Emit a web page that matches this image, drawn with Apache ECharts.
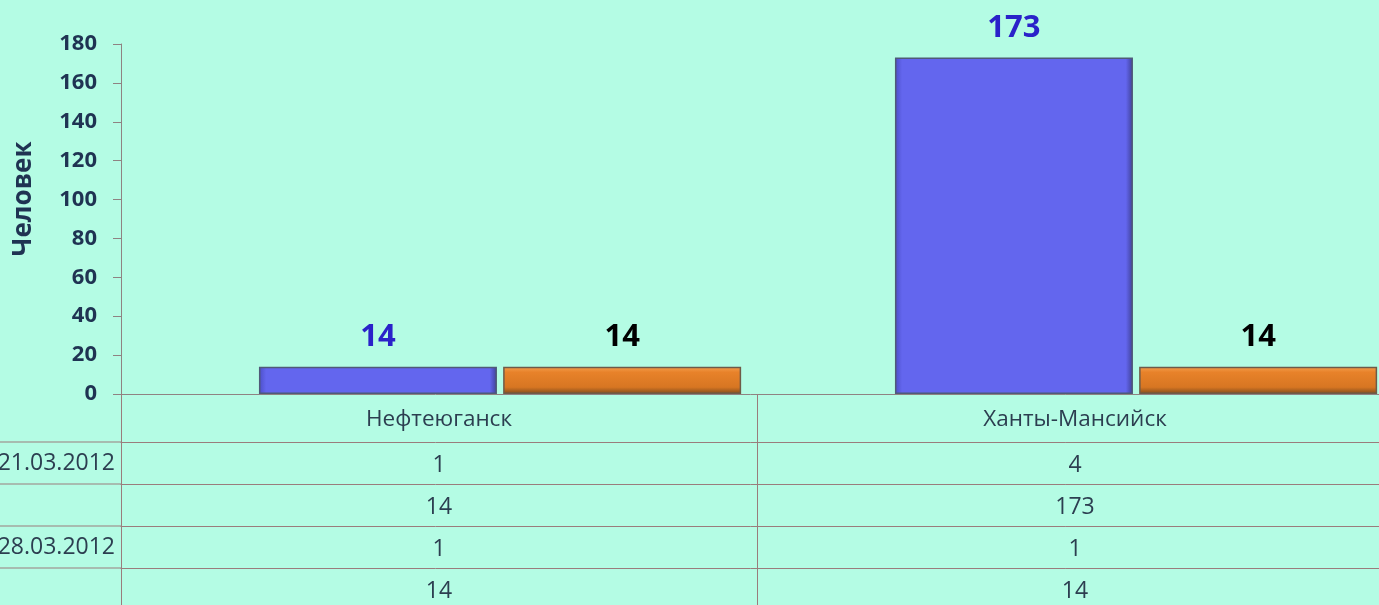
<!DOCTYPE html>
<html>
<head>
<meta charset="utf-8">
<script src="https://cdn.jsdelivr.net/npm/echarts@6/dist/echarts.min.js"></script>
<style>
  html, body { margin: 0; padding: 0; background: #b4fce4; }
  #chart { width: 1379px; height: 605px; }
</style>
</head>
<body>
<div id="chart"></div>
<script>
const cities = ['Нефтеюганск', 'Ханты-Мансийск'];
const rowNames = ['21.03.2012', '', '28.03.2012', ''];
const countsFirst = [1, 4];
const peopleFirst = [14, 173];
const countsSecond = [1, 1];
const peopleSecond = [14, 14];
const rows = [countsFirst, peopleFirst, countsSecond, peopleSecond];

const lineColor = '#9a7c7c';
const textColor = '#2c3e50';
const font = 'Open Sans';
const gridLeft = 121;
const gridBottom = 211;
const headerH = 48;
const rowH = 42;

const chart = echarts.init(document.getElementById('chart'));

// table rows are extra x axes pushed down with offset
const rowAxes = rows.map((vals, i) => ({
  type: 'category',
  data: cities,
  position: 'bottom',
  offset: headerH + rowH * i,
  axisLine: { show: true, lineStyle: { color: lineColor, width: 1 } },
  axisTick: { show: false },
  axisLabel: {
    margin: 12,
    fontFamily: font,
    fontSize: 23,
    color: textColor,
    formatter: (v, idx) => String(vals[idx])
  },
  name: rowNames[i],
  nameLocation: 'start',
  nameGap: 6,
  nameTextStyle: {
    fontFamily: font,
    fontSize: 23,
    color: textColor,
    align: 'right',
    verticalAlign: 'top',
    lineHeight: 42
  }
}));

const hidden = { color: 'rgba(0,0,0,0)' };

function barSeries(name, data, itemStyle, labelColor) {
  return {
    name: name,
    type: 'bar',
    data: data,
    barWidth: 238,
    barGap: '-48.7%',
    itemStyle: itemStyle,
    silent: !labelColor,
    label: {
      show: !!labelColor,
      position: 'top',
      distance: 14,
      fontFamily: font,
      fontWeight: 'bold',
      fontSize: 31,
      color: labelColor
    }
  };
}

const blueStyle = {
  color: new echarts.graphic.LinearGradient(0, 0, 1, 0, [
    { offset: 0, color: '#4b4ec6' },
    { offset: 0.03, color: '#6366ee' },
    { offset: 0.97, color: '#6366ee' },
    { offset: 1, color: '#3e4095' }
  ]),
  borderColor: '#4f5a78',
  borderWidth: 1.5
};
const orangeStyle = {
  color: new echarts.graphic.LinearGradient(0, 0, 0, 1, [
    { offset: 0, color: '#f4a04e' },
    { offset: 0.2, color: '#e8822a' },
    { offset: 0.75, color: '#d77622' },
    { offset: 1, color: '#7e4a1c' }
  ]),
  borderColor: '#6f5a48',
  borderWidth: 1.5
};

const axisY = 605 - gridBottom;
const stubs = rows.map((r, i) => ({
  type: 'line',
  shape: { x1: 0, y1: axisY + headerH + rowH * i, x2: gridLeft, y2: axisY + headerH + rowH * i },
  style: { stroke: lineColor, lineWidth: 1 }
}));

const option = {
  backgroundColor: '#b4fce4',
  animation: false,
  grid: {
    left: gridLeft, right: -14, top: 44, bottom: gridBottom,
    containLabel: false, outerBoundsMode: 'none'
  },
  xAxis: [{
    type: 'category',
    data: cities,
    axisLine: { lineStyle: { color: '#8f8282', width: 1 } },
    axisTick: { show: true, alignWithLabel: false, length: 216, lineStyle: { color: lineColor, width: 1 } },
    axisLabel: { margin: 14, fontFamily: font, fontSize: 22.5, color: textColor }
  }].concat(rowAxes),
  yAxis: {
    type: 'value',
    min: 0,
    max: 180,
    interval: 20,
    name: 'Человек',
    nameLocation: 'middle',
    nameGap: 84,
    nameTextStyle: {
      fontFamily: font, fontSize: 26, fontWeight: 'bold', color: '#1f3352',
      padding: [0, 0, 0, 40]
    },
    axisLine: { show: true, lineStyle: { color: '#8f8282', width: 1 } },
    axisTick: { show: true, length: 8, lineStyle: { color: '#8f8282' } },
    splitLine: { show: false },
    axisLabel: { margin: 24, fontFamily: font, fontSize: 22, fontWeight: 'bold', color: '#1f3352' }
  },
  graphic: stubs,
  series: [
    barSeries(rowNames[0], countsFirst, hidden, null),
    barSeries(rowNames[1], peopleFirst, blueStyle, '#2a22c9'),
    barSeries(rowNames[2], countsSecond, hidden, null),
    barSeries(rowNames[3], peopleSecond, orangeStyle, '#000000')
  ]
};

chart.setOption(option);
</script>
</body>
</html>
